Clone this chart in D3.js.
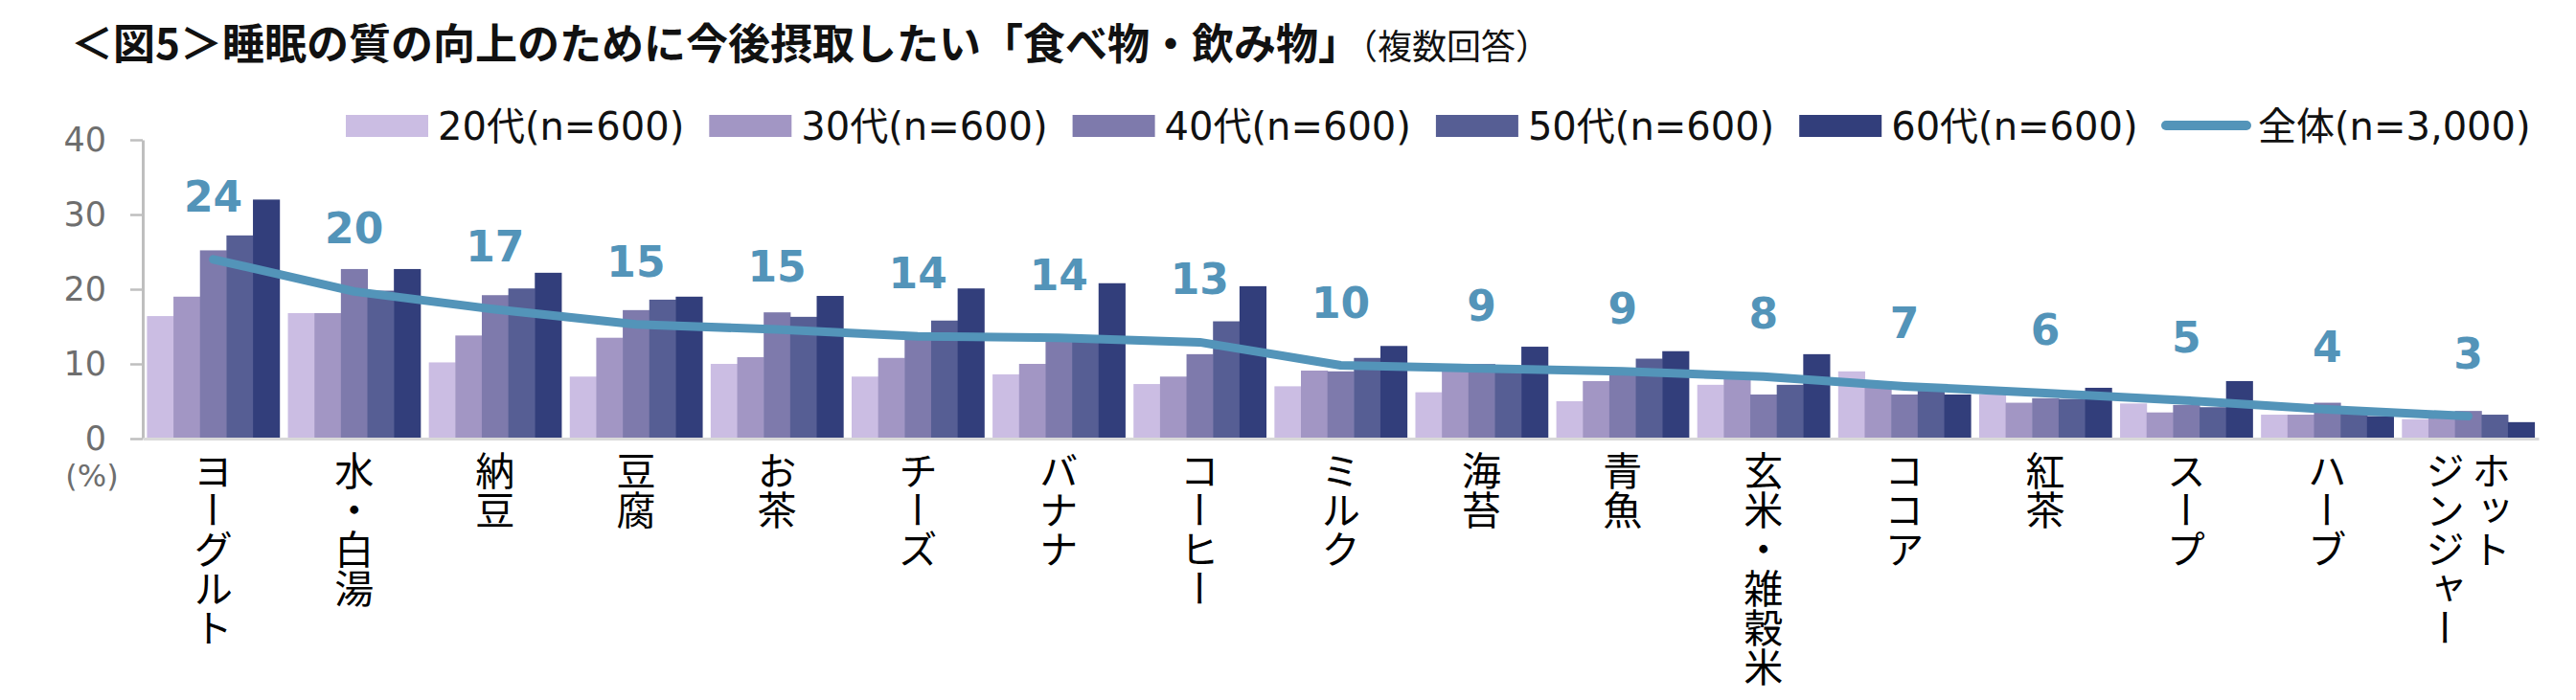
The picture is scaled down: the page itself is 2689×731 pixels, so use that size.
<!DOCTYPE html>
<html>
<head>
<meta charset="utf-8">
<script src="https://cdn.jsdelivr.net/npm/d3@7"></script>
<style>
  body { margin: 0; background: #fff; }
  svg { display: block; font-family: "DejaVu Sans", "Noto Sans CJK JP", sans-serif; }
</style>
</head>
<body>
<svg id="chart" width="2689" height="731"></svg>
<script>
// categories on the x axis ("\n" = column break in the vertical label)
var categories = ["ヨーグルト", "水・白湯", "納豆", "豆腐", "お茶", "チーズ", "バナナ", "コーヒー",
  "ミルク", "海苔", "青魚", "玄米・雑穀米", "ココア", "紅茶", "スープ", "ハーブ", "ホット\nジンジャー"];

var groups = ["20代(n=600)", "30代(n=600)", "40代(n=600)", "50代(n=600)", "60代(n=600)"];
var groupColors = ["#cbbde3", "#a296c4", "#7e7aac", "#565e94", "#323e7b"];

var age20 = [16.4, 16.8, 10.2, 8.3, 10.0, 8.3, 8.6, 7.3, 7.0, 6.2, 5.0, 7.2, 9.0, 5.9, 4.7, 3.2, 2.6];
var age30 = [19.0, 16.8, 13.8, 13.5, 10.9, 10.8, 10.0, 8.3, 9.1, 9.4, 7.7, 8.0, 6.8, 4.8, 3.5, 3.2, 2.8];
var age40 = [25.2, 22.7, 19.2, 17.2, 16.9, 13.6, 13.9, 11.3, 9.0, 10.0, 8.7, 5.9, 5.9, 5.4, 4.5, 4.8, 3.7];
var age50 = [27.2, 19.8, 20.1, 18.6, 16.3, 15.8, 13.3, 15.7, 10.8, 9.6, 10.7, 7.2, 6.4, 5.3, 4.2, 3.6, 3.2];
var age60 = [32.0, 22.7, 22.2, 19.0, 19.1, 20.1, 20.8, 20.4, 12.4, 12.3, 11.7, 11.3, 5.9, 6.8, 7.7, 3.0, 2.2];

var totalName = "全体(n=3,000)";
var total = [24.0, 19.7, 17.3, 15.3, 14.6, 13.7, 13.5, 12.9, 9.8, 9.4, 9.0, 8.3, 7.0, 6.1, 5.1, 3.9, 3.0];

var yTicks = [0, 10, 20, 30, 40];

var seriesValues = [age20, age30, age40, age50, age60];

var svg = d3.select("#chart"),
    LEFT = 149,
    RIGHT = 2650,
    TOP = 146,
    BOTTOM = 458,
    LINE_COLOR = "#5394b9";

var xScale = d3.scaleBand()
    .domain(categories)
    .range([LEFT, RIGHT])
    .paddingInner(0.06)
    .paddingOuter(0.03);

var xSub = d3.scaleBand()
    .domain(groups)
    .range([0, xScale.bandwidth()]);

var yScale = d3.scaleLinear()
    .domain([0, 40])
    .range([BOTTOM, TOP]);

// title
var title = svg.append("text")
    .attr("x", 74)
    .attr("y", 62)
    .attr("font-family", "'Noto Sans CJK JP', sans-serif")
    .attr("fill", "#111");
title.append("tspan")
    .attr("font-size", 44)
    .attr("font-weight", "bold")
    .text("＜図5＞睡眠の質の向上のために今後摂取したい「食べ物・飲み物」");
title.append("tspan")
    .attr("font-size", 36)
    .text("（複数回答）");

// legend
groups.forEach(function(g, i) {
  var lx = 361 + i * 379.3;
  svg.append("rect")
      .attr("x", lx).attr("y", 120)
      .attr("width", 86).attr("height", 23)
      .attr("fill", groupColors[i]);
  svg.append("text")
      .attr("x", lx + 96).attr("y", 132)
      .attr("dy", "0.36em")
      .attr("font-size", 40)
      .attr("fill", "#111")
      .text(g);
});
svg.append("line")
    .attr("x1", 2261).attr("x2", 2345)
    .attr("y1", 131).attr("y2", 131)
    .attr("stroke", LINE_COLOR)
    .attr("stroke-width", 10)
    .attr("stroke-linecap", "round");
svg.append("text")
    .attr("x", 2357).attr("y", 132)
    .attr("dy", "0.36em")
    .attr("font-size", 40)
    .attr("fill", "#111")
    .text(totalName);

// bars
var catG = svg.append("g").selectAll("g")
    .data(categories)
    .enter().append("g")
    .attr("transform", function(d) { return "translate(" + xScale(d) + ",0)"; });

catG.selectAll("rect")
    .data(function(d, ci) {
      return groups.map(function(g, gi) { return { g: g, gi: gi, v: seriesValues[gi][ci] }; });
    })
    .enter().append("rect")
    .attr("x", function(d) { return xSub(d.g); })
    .attr("width", xSub.bandwidth() + 0.5)
    .attr("y", function(d) { return yScale(d.v); })
    .attr("height", function(d) { return BOTTOM - yScale(d.v); })
    .attr("fill", function(d) { return groupColors[d.gi]; });

// y axis
var yAxis = d3.axisLeft(yScale)
    .tickValues(yTicks)
    .tickSize(13)
    .tickSizeOuter(0)
    .tickPadding(25);

var yg = svg.append("g")
    .attr("transform", "translate(" + LEFT + ",0)")
    .call(yAxis);
yg.select(".domain").attr("stroke", "#bfbfbf").attr("stroke-width", 3);
yg.selectAll(".tick line").attr("stroke", "#bfbfbf").attr("stroke-width", 2.5);
yg.selectAll(".tick text")
    .attr("font-size", 35)
    .attr("font-family", "'DejaVu Sans', sans-serif")
    .attr("fill", "#6e6e6e");

svg.append("text")
    .attr("x", 96).attr("y", 497)
    .attr("dy", "0.35em")
    .attr("text-anchor", "middle")
    .attr("font-size", 32)
    .attr("fill", "#6e6e6e")
    .text("(%)");

// x axis
var xAxis = d3.axisBottom(xScale)
    .tickSize(0)
    .tickSizeOuter(0);

var xg = svg.append("g")
    .attr("transform", "translate(0," + BOTTOM + ")")
    .call(xAxis);
xg.select(".domain").attr("stroke", "#d9d9d9").attr("stroke-width", 3);
xg.selectAll(".tick text").each(function(d) {
  var t = d3.select(this).text(null)
      .attr("dy", null)
      .attr("y", 13)
      .attr("text-anchor", "start")
      .attr("font-size", 41)
      .attr("font-family", "'Noto Sans CJK JP', sans-serif")
      .attr("fill", "#000")
      .style("writing-mode", "vertical-rl");
  var cols = d.split("\n");
  cols.forEach(function(c, i) {
    t.append("tspan")
        .attr("x", (cols.length - 1) * 24 - i * 48)
        .attr("y", 13)
        .text(c);
  });
});

// total line
var lineGen = d3.line()
    .x(function(d, i) { return xScale(categories[i]) + xScale.bandwidth() / 2; })
    .y(function(d) { return yScale(d); });

svg.append("path")
    .attr("d", lineGen(total))
    .attr("fill", "none")
    .attr("stroke", LINE_COLOR)
    .attr("stroke-width", 9)
    .attr("stroke-linecap", "round")
    .attr("stroke-linejoin", "round");

// total labels
svg.append("g").selectAll("text")
    .data(total)
    .enter().append("text")
    .attr("x", function(d, i) { return xScale(categories[i]) + xScale.bandwidth() / 2; })
    .attr("y", function(d) { return yScale(d) - 50; })
    .attr("text-anchor", "middle")
    .attr("font-size", 44)
    .attr("font-weight", "bold")
    .attr("fill", LINE_COLOR)
    .text(function(d) { return Math.round(d); });
</script>
</body>
</html>
